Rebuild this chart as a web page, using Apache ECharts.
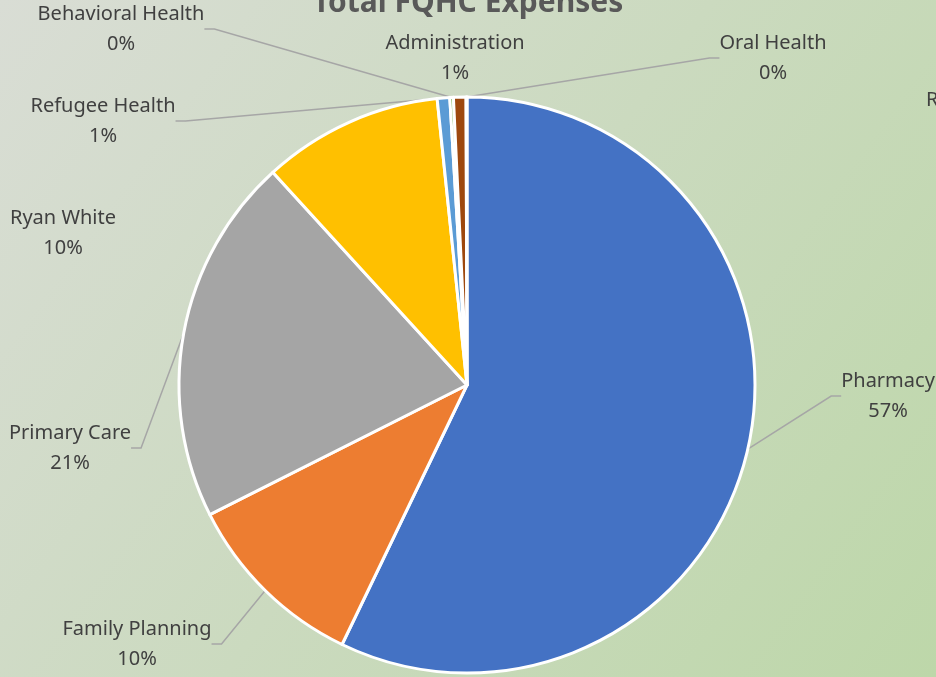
<!DOCTYPE html>
<html>
<head>
<meta charset="utf-8">
<script src="https://cdn.jsdelivr.net/npm/echarts@6/dist/echarts.min.js"></script>
<style>html,body{margin:0;padding:0;}#c{width:936px;height:677px;}</style>
</head>
<body>
<div id="c"></div>
<script>
var categories = ['Pharmacy', 'Family Planning', 'Primary Care', 'Ryan White', 'Refugee Health', 'Behavioral Health', 'Administration', 'Oral Health'];
var values = [57.0, 10.4, 20.6, 10.1, 0.7, 0.2, 0.7, 0.05];
var colors = ['#4472C4', '#ED7D31', '#A5A5A5', '#FFC000', '#5B9BD5', '#70AD47', '#9E480E', '#264478'];
var titleText = 'Total FQHC Expenses';
// label anchor positions (centre of the two-line label)
var labelPos = [[888, 396], [137, 644], [70, 448], [63, 233], [103, 121], [121, 29], [455, 58], [773, 58]];
var noLine = [false, false, false, true, false, false, true, false];

var chart = echarts.init(document.getElementById('c'));
chart.setOption({
  backgroundColor: {
    type: 'linear', x: 0, y: 0, x2: 1, y2: 1,
    colorStops: [{offset: 0, color: '#d9ddd5'}, {offset: 1, color: '#bdd7a9'}]
  },
  animation: false,
  title: {
    text: titleText, left: 'center', top: -17,
    textStyle: {fontFamily: 'Noto Sans', fontWeight: 'bold', fontSize: 30, color: '#595959'}
  },
  graphic: [{type: 'text', left: 926, top: 90, style: {text: 'R', font: '20px "Noto Sans"', fill: '#404040'}}],
  series: [{
    type: 'pie',
    center: [467, 385],
    radius: [0, 288],
    startAngle: 90,
    clockwise: true,
    avoidLabelOverlap: false,
    itemStyle: {borderColor: '#ffffff', borderWidth: 3},
    label: {
      show: true,
      fontFamily: 'Noto Sans', fontSize: 20, color: '#404040', lineHeight: 30, align: 'center',
      formatter: function (p) { return p.name + '\n' + Math.round(p.percent) + '%'; }
    },
    labelLine: {show: true, lineStyle: {color: '#A6A6A6', width: 1.5}, length: 10, length2: 10},
    labelLayout: function (params) {
      var pos = labelPos[params.dataIndex];
      return {x: pos[0], y: pos[1], align: 'center', verticalAlign: 'middle'};
    },
    data: categories.map(function (c, i) {
      return {
        name: c, value: values[i],
        itemStyle: {color: colors[i]},
        labelLine: {show: !noLine[i]}
      };
    })
  }]
});
</script>
</body>
</html>
